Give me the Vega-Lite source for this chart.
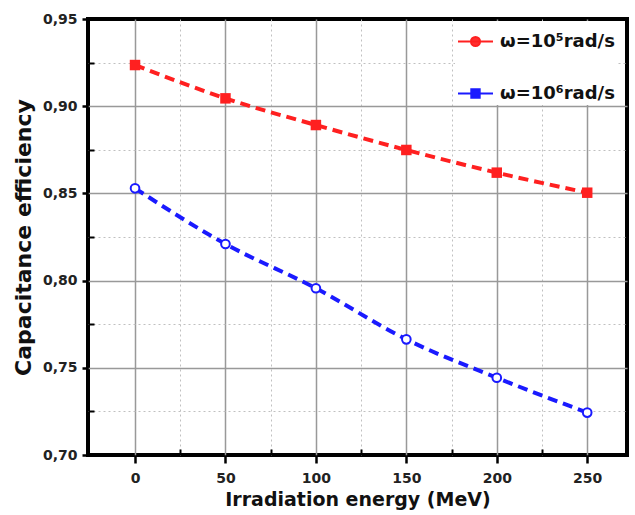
{
  "$schema": "https://vega.github.io/schema/vega-lite/v6.json",
  "width": 539,
  "height": 436,
  "autosize": {"type": "none"},
  "padding": {"left": 88, "top": 19, "right": 8, "bottom": 60},
  "background": "white",
  "config": {
    "view": {"stroke": "black", "strokeWidth": 4},
    "font": "DejaVu Sans",
    "axis": {
      "labelFont": "DejaVu Sans",
      "labelFontWeight": "bold",
      "labelFontSize": 14,
      "labelColor": "#222222",
      "labelFlush": false,
      "titleFont": "DejaVu Sans",
      "titleFontWeight": "bold",
      "titleColor": "#111111",
      "domain": false
    }
  },
  "data": {
    "values": [
      {"series": "ω=10⁵rad/s", "energy": 0, "eff": 0.9236},
      {"series": "ω=10⁵rad/s", "energy": 50, "eff": 0.9045},
      {"series": "ω=10⁵rad/s", "energy": 100, "eff": 0.8892},
      {"series": "ω=10⁵rad/s", "energy": 150, "eff": 0.8749},
      {"series": "ω=10⁵rad/s", "energy": 200, "eff": 0.8619},
      {"series": "ω=10⁵rad/s", "energy": 250, "eff": 0.8504},
      {"series": "ω=10⁶rad/s", "energy": 0, "eff": 0.8529},
      {"series": "ω=10⁶rad/s", "energy": 50, "eff": 0.821},
      {"series": "ω=10⁶rad/s", "energy": 100, "eff": 0.7956},
      {"series": "ω=10⁶rad/s", "energy": 150, "eff": 0.7663},
      {"series": "ω=10⁶rad/s", "energy": 200, "eff": 0.7443},
      {"series": "ω=10⁶rad/s", "energy": 250, "eff": 0.7243}
    ]
  },
  "layer": [
    {
      "mark": {"type": "line", "interpolate": "monotone", "strokeDash": [10, 6], "strokeWidth": 4},
      "encoding": {
        "x": {
          "field": "energy", "type": "quantitative",
          "scale": {"domain": [-26, 272], "nice": false, "zero": false},
          "axis": {"orient": "bottom", "values": [25, 75, 125, 175, 225], "grid": true, "gridDash": [2, 3], "gridColor": "#c0c0c0", "gridWidth": 1, "tickSize": -6, "tickWidth": 2, "tickColor": "black", "labels": false, "title": null}
        },
        "y": {
          "field": "eff", "type": "quantitative",
          "scale": {"domain": [0.7, 0.95], "nice": false, "zero": false},
          "axis": {"orient": "left", "values": [0.725, 0.775, 0.825, 0.875, 0.925], "grid": true, "gridDash": [2, 3], "gridColor": "#c0c0c0", "gridWidth": 1, "tickSize": -6, "tickWidth": 2, "tickColor": "black", "labels": false, "title": null}
        },
        "color": {
          "field": "series", "type": "nominal",
          "scale": {"domain": ["ω=10⁵rad/s", "ω=10⁶rad/s"], "range": ["#ff2020", "#1a1aff"]},
          "legend": {
            "title": null,
            "orient": "none",
            "legendX": 367,
            "legendY": 2,
            "direction": "vertical",
            "fillColor": "white",
            "padding": 2,
            "symbolSize": 1225,
            "symbolStrokeWidth": 2,
            "labelFont": "DejaVu Sans",
            "labelFontSize": 18,
            "labelFontWeight": "bold",
            "labelColor": "#111111",
            "labelOffset": 6,
            "rowPadding": 24,
            "encode": {
              "symbols": {
                "update": {
                  "shape": {"signal": "datum.value == 'ω=10⁵rad/s' ? 'M-1,0H1M-0.26,0A0.26,0.26 0 1,1 0.26,0A0.26,0.26 0 1,1 -0.26,0Z' : 'M-1,0H1M-0.24,-0.24H0.24V0.24H-0.24Z'"},
                  "fill": {"signal": "datum.value == 'ω=10⁵rad/s' ? '#ff3030' : '#1a1aff'"},
                  "stroke": {"signal": "datum.value == 'ω=10⁵rad/s' ? '#ff3030' : '#1a1aff'"},
                  "strokeWidth": {"value": 2},
                  "opacity": {"value": 1}
                }
              }
            }
          }
        }
      }
    },
    {
      "encoding": {
        "x": {
          "field": "energy", "type": "quantitative",
          "scale": {"domain": [-26, 272], "nice": false, "zero": false},
          "axis": {"orient": "bottom", "values": [0, 50, 100, 150, 200, 250], "format": "d", "grid": true, "gridColor": "#999999", "gridWidth": 1.5, "tickSize": 8, "tickWidth": 2.5, "tickColor": "black", "labelPadding": 8, "title": "Irradiation energy (MeV)", "titleFontSize": 19, "titlePadding": 5}
        },
        "y": {
          "field": "eff", "type": "quantitative",
          "scale": {"domain": [0.7, 0.95], "nice": false, "zero": false},
          "axis": {"orient": "left", "values": [0.7, 0.75, 0.8, 0.85, 0.9, 0.95], "labelExpr": "replace(format(datum.value, '.2f'), '.', ',')", "grid": true, "gridColor": {"condition": {"test": "datum.value < 0.701 || datum.value > 0.949", "value": "transparent"}, "value": "#999999"}, "gridWidth": 1.5, "tickSize": 6, "tickWidth": 2.5, "tickColor": "black", "labelPadding": 5, "title": "Capacitance efficiency", "titleFontSize": 22, "titlePadding": 7}
        }
      },
      "layer": [
        {
          "transform": [{"filter": "datum.series == 'ω=10⁵rad/s'"}],
          "mark": {"type": "square", "size": 110, "color": "#ff2020", "opacity": 1}
        },
        {
          "transform": [{"filter": "datum.series == 'ω=10⁶rad/s'"}],
          "mark": {"type": "point", "shape": "circle", "size": 75, "stroke": "#1a1aff", "strokeWidth": 2, "fill": "white", "filled": true, "opacity": 1}
        }
      ]
    }
  ],
  "resolve": {
    "scale": {"x": "independent", "y": "independent"},
    "axis": {"x": "independent", "y": "independent"}
  }
}
